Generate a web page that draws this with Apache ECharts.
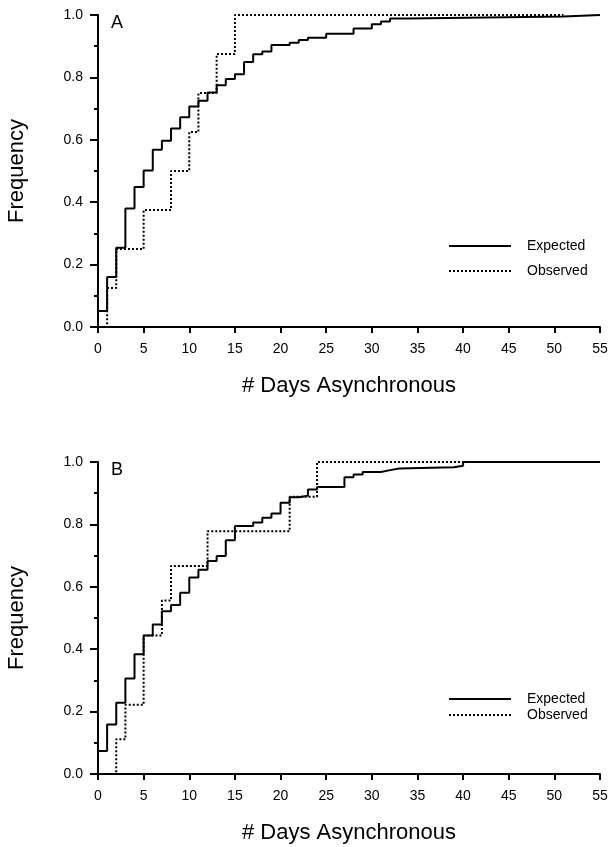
<!DOCTYPE html>
<html>
<head>
<meta charset="utf-8">
<script src="https://cdn.jsdelivr.net/npm/echarts@6/dist/echarts.min.js"></script>
<style>
  html, body { margin: 0; padding: 0; background: #fff; }
  #chart { width: 610px; height: 847px; }
</style>
</head>
<body>
<div id="chart"></div>
<script>
// Cumulative frequency step data: [days, frequency]
const expectedA = [[0,0],[0,0.051],[1,0.16],[2,0.254],[3,0.38],[4,0.449],[5,0.502],[6,0.568],[7,0.597],[8,0.636],[9,0.672],[10,0.707],[11,0.725],[12,0.752],[13,0.775],[14,0.795],[15,0.81],[16,0.849],[17,0.874],[18,0.883],[19,0.904],[21,0.911],[22,0.92],[23,0.927],[25,0.94],[28,0.957],[30,0.97],[31,0.979],[32,0.989],[34,0.995],[51,1.0],[55,1.0]];
const observedA = [[0,0],[1,0.125],[2,0.25],[5,0.375],[8,0.5],[10,0.625],[11,0.75],[13,0.875],[15,1.0],[51,1.0]];
const expectedB = [[0,0],[0,0.074],[1,0.159],[2,0.228],[3,0.306],[4,0.384],[5,0.444],[6,0.479],[7,0.522],[8,0.542],[9,0.581],[10,0.63],[11,0.655],[12,0.683],[13,0.699],[14,0.749],[15,0.795],[17,0.806],[18,0.821],[19,0.835],[20,0.869],[21,0.887],[22,0.892],[23,0.912],[24,0.92],[27,0.951],[28,0.96],[29,0.968],[31,0.974],[32,0.979],[33,0.983],[39,0.988],[40,1.0],[55,1.0]];
const observedB = [[0,0],[2,0.111],[3,0.222],[5,0.444],[7,0.556],[8,0.667],[12,0.778],[21,0.889],[24,1.0],[40,1.0]];
const panelLabels = ['A', 'B'];
const seriesNames = ['Expected', 'Observed'];

const font = 'Liberation Sans, Arial, Helvetica, sans-serif';
const chart = echarts.init(document.getElementById('chart'));

const gridTops = [15, 462];
const legendTops = [234, 687];
const legendGaps = [11, 2];

function xAxis(i) {
    return {
        type: 'value', gridIndex: i, min: 0, max: 55, interval: 5,
        name: '# Days Asynchronous', nameLocation: 'middle', nameGap: 48,
        nameTextStyle: { fontSize: 22, color: '#000', fontFamily: font },
        axisLine: { lineStyle: { color: '#000', width: 2 } },
        axisTick: { length: 6, lineStyle: { color: '#000', width: 2 } },
        axisLabel: { margin: 15, fontSize: 14, color: '#000', fontFamily: font },
        splitLine: { show: false }
    };
}

function yAxis(i) {
    return {
        type: 'value', gridIndex: i, min: 0, max: 1, interval: 0.2,
        name: 'Frequency', nameLocation: 'middle', nameGap: 70,
        nameTextStyle: { fontSize: 22, color: '#000', fontFamily: font },
        axisLine: { show: true, lineStyle: { color: '#000', width: 2 } },
        axisTick: { length: 8, lineStyle: { color: '#000', width: 2 } },
        minorTick: { show: true, splitNumber: 2, length: 4, lineStyle: { color: '#000', width: 2 } },
        axisLabel: { margin: 15, fontSize: 14, color: '#000', fontFamily: font,
            formatter: v => v.toFixed(1) },
        splitLine: { show: false }
    };
}

function stepSeries(name, data, i, dotted) {
    return {
        name: name, type: 'line', step: 'end', data: data,
        xAxisIndex: i, yAxisIndex: i, symbol: 'none',
        lineStyle: { color: '#000', width: 2, type: dotted ? [2, 2] : 'solid' },
        itemStyle: { color: '#000' }
    };
}

const option = {
    animation: false,
    title: panelLabels.map((t, i) => ({
        text: t, left: 111, top: gridTops[i] - 1, padding: 0,
        textStyle: { fontSize: 18, fontWeight: 'normal', color: '#000', fontFamily: font }
    })),
    legend: legendTops.map((t, i) => ({
        data: seriesNames, left: 443, top: t, orient: 'vertical',
        itemWidth: 62, itemHeight: 14, itemGap: legendGaps[i],
        itemStyle: { opacity: 0 },
        textStyle: { fontSize: 14, color: '#000', fontFamily: font, padding: [0, 0, 0, 11] }
    })),
    grid: gridTops.map(t => ({ left: 98, top: t, width: 502, height: 312, outerBoundsMode: 'none' })),
    xAxis: [xAxis(0), xAxis(1)],
    yAxis: [yAxis(0), yAxis(1)],
    series: [
        stepSeries('Expected', expectedA, 0, false),
        stepSeries('Observed', observedA, 0, true),
        stepSeries('Expected', expectedB, 1, false),
        stepSeries('Observed', observedB, 1, true)
    ]
};

chart.setOption(option);
</script>
</body>
</html>
